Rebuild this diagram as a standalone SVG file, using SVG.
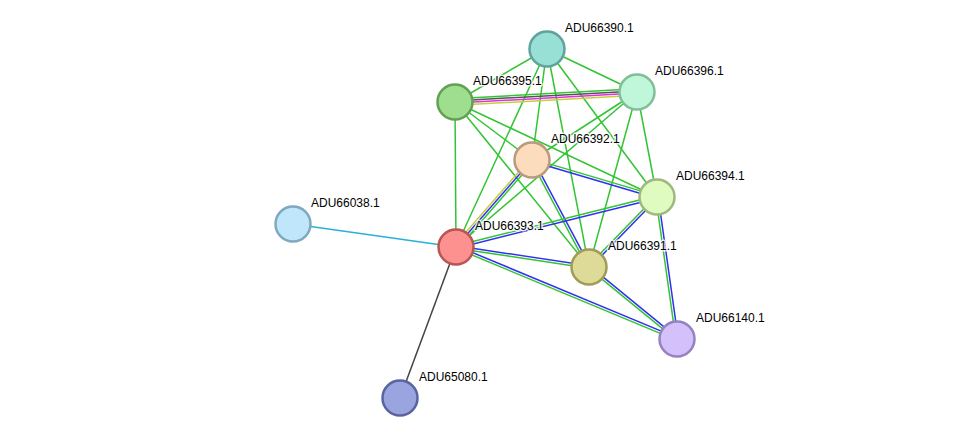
<svg xmlns="http://www.w3.org/2000/svg" width="975" height="444" viewBox="0 0 975 444">
<style>
.e{stroke-width:1.5;fill:none}
.g{stroke:#33c433}
.b{stroke:#3030f0}
.y{stroke:#c4d03a}
.m{stroke:#e030e0}
.k{stroke:#555555}
.c{stroke:#2ab0d8}
.d{stroke:#444444}
.n circle{stroke-width:2.5}
.n text{font-family:"Liberation Sans",Arial,sans-serif;font-size:12px;fill:#000;stroke:#fff;stroke-width:3;stroke-opacity:0.8;paint-order:stroke;stroke-linejoin:round}
</style>
<rect width="975" height="444" fill="#ffffff"/>
<g id="connectors">
<line class="e g" x1="547" y1="49" x2="455" y2="102"/>
<line class="e g" x1="547" y1="49" x2="637" y2="92"/>
<line class="e g" x1="547" y1="49" x2="456" y2="247"/>
<line class="e g" x1="547" y1="49" x2="532" y2="160"/>
<line class="e g" x1="547" y1="49" x2="589" y2="267"/>
<line class="e g" x1="547" y1="49" x2="657" y2="197"/>
<line class="e g" x1="637" y1="92" x2="532" y2="160"/>
<line class="e g" x1="637" y1="92" x2="456" y2="247"/>
<line class="e g" x1="637" y1="92" x2="657" y2="197"/>
<line class="e g" x1="637" y1="92" x2="589" y2="267"/>
<line class="e g" x1="455" y1="102" x2="532" y2="160"/>
<line class="e g" x1="455" y1="102" x2="456" y2="247"/>
<line class="e g" x1="455" y1="102" x2="657" y2="197"/>
<line class="e g" x1="455" y1="102" x2="589" y2="267"/>
<line class="e g" x1="454.8" y1="98.7" x2="636.8" y2="88.7"/>
<line class="e k" x1="454.9" y1="100.9" x2="636.9" y2="90.9"/>
<line class="e m" x1="455.1" y1="103.1" x2="637.1" y2="93.1"/>
<line class="e y" x1="455.2" y1="105.3" x2="637.2" y2="95.3"/>
<line class="e y" x1="454.3" y1="245.6" x2="530.3" y2="158.6"/>
<line class="e b" x1="456" y1="247" x2="532" y2="160"/>
<line class="e g" x1="457.7" y1="248.5" x2="533.7" y2="161.5"/>
<line class="e g" x1="532.3" y1="158.9" x2="657.3" y2="195.9"/>
<line class="e b" x1="531.7" y1="161.2" x2="656.7" y2="198.2"/>
<line class="e g" x1="530.9" y1="160.6" x2="587.9" y2="267.6"/>
<line class="e b" x1="533.1" y1="159.4" x2="590.1" y2="266.4"/>
<line class="e g" x1="656.7" y1="195.8" x2="455.7" y2="245.8"/>
<line class="e b" x1="657.3" y1="198.2" x2="456.3" y2="248.2"/>
<line class="e g" x1="656.1" y1="196.2" x2="588.1" y2="266.2"/>
<line class="e b" x1="657.9" y1="197.8" x2="589.9" y2="267.8"/>
<line class="e g" x1="655.8" y1="197.2" x2="675.8" y2="339.2"/>
<line class="e b" x1="658.2" y1="196.8" x2="678.2" y2="338.8"/>
<line class="e b" x1="456.2" y1="245.8" x2="589.2" y2="265.8"/>
<line class="e g" x1="455.8" y1="248.2" x2="588.8" y2="268.2"/>
<line class="e b" x1="456.5" y1="245.9" x2="677.5" y2="337.9"/>
<line class="e g" x1="455.5" y1="248.1" x2="676.5" y2="340.1"/>
<line class="e b" x1="589.8" y1="266.1" x2="677.8" y2="338.1"/>
<line class="e g" x1="588.2" y1="267.9" x2="676.2" y2="339.9"/>
<line class="e c" x1="293" y1="224" x2="456" y2="247"/>
<line class="e d" x1="456" y1="247" x2="400" y2="398"/>
</g>
<g id="ADU66390.1" class="n"><circle cx="547" cy="49" r="17.5" fill="#98dfd6" stroke="#5fa39c"/><text x="565" y="32">ADU66390.1</text></g>
<g id="ADU66396.1" class="n"><circle cx="637" cy="92" r="17.5" fill="#c0f7da" stroke="#80bf98"/><text x="655" y="75">ADU66396.1</text></g>
<g id="ADU66395.1" class="n"><circle cx="455" cy="102" r="17.5" fill="#9ede8e" stroke="#62a052"/><text x="473" y="85">ADU66395.1</text></g>
<g id="ADU66392.1" class="n"><circle cx="532" cy="160" r="17.5" fill="#fddcbe" stroke="#b89a7c"/><text x="551" y="143">ADU66392.1</text></g>
<g id="ADU66394.1" class="n"><circle cx="657" cy="197" r="17.5" fill="#e0fbc0" stroke="#a0b880"/><text x="676" y="180">ADU66394.1</text></g>
<g id="ADU66038.1" class="n"><circle cx="293" cy="224" r="17.5" fill="#c0e6fb" stroke="#80a8be"/><text x="311" y="207">ADU66038.1</text></g>
<g id="ADU66393.1" class="n"><circle cx="456" cy="247" r="17.5" fill="#fc9190" stroke="#b85654"/><text x="475" y="230">ADU66393.1</text></g>
<g id="ADU66391.1" class="n"><circle cx="589" cy="267" r="17.5" fill="#dedb98" stroke="#a09c58"/><text x="608" y="250">ADU66391.1</text></g>
<g id="ADU66140.1" class="n"><circle cx="677" cy="339" r="17.5" fill="#d4c1fb" stroke="#9682c0"/><text x="696" y="322">ADU66140.1</text></g>
<g id="ADU65080.1" class="n"><circle cx="400" cy="398" r="17.5" fill="#9aa5e0" stroke="#5a64a0"/><text x="419" y="381">ADU65080.1</text></g>
</svg>
